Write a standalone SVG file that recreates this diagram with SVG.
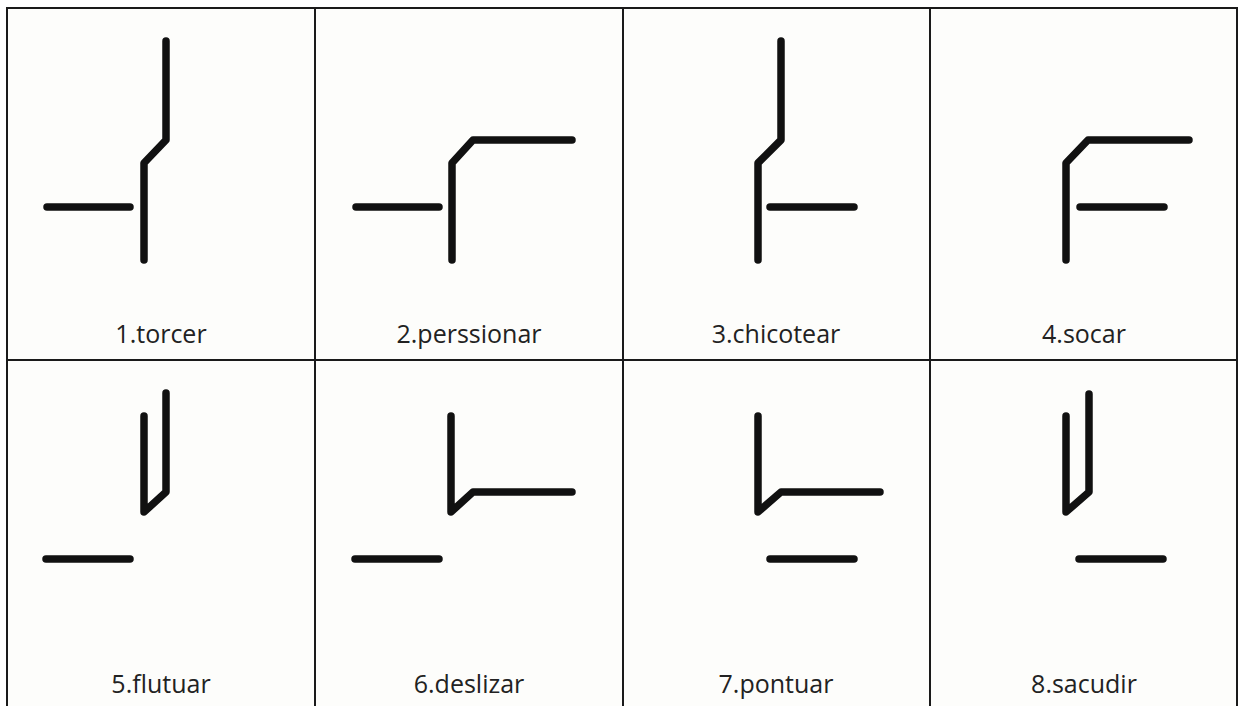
<svg xmlns="http://www.w3.org/2000/svg" width="1240" height="706" viewBox="0 0 1240 706">
<style>
.grid{fill:none;stroke:#1a1a1a;stroke-width:2}
.st{fill:none;stroke:#111;stroke-width:7.5;stroke-linecap:round;stroke-linejoin:round}
.lbl{font-family:"Open Sans","Liberation Sans",sans-serif;font-size:25px;fill:#222;text-anchor:middle}
</style>
<rect x="0" y="0" width="1240" height="706" fill="#ffffff"/>
<rect x="7" y="8" width="1230" height="710" fill="#fdfdfb"/>
<g id="grid">
<path class="grid" d="M7,720 V8 H1237 V720 M315,8 V720 M623,8 V720 M930,8 V720 M7,360 H1237"/>
</g>
<g id="n1">
<path class="st" d="M144,260 V163 L166,140 V41"/>
<path class="st" d="M47,207 H130"/>
<text class="lbl" x="161" y="343">1.torcer</text>
</g>
<g id="n2">
<path class="st" d="M452,260 V163 L473,140 H572"/>
<path class="st" d="M356,207 H439"/>
<text class="lbl" x="469" y="343">2.perssionar</text>
</g>
<g id="n3">
<path class="st" d="M758,260 V163 L781,140 V41"/>
<path class="st" d="M770,207 H854"/>
<text class="lbl" x="776" y="343">3.chicotear</text>
</g>
<g id="n4">
<path class="st" d="M1066,260 V163 L1088,140 H1189"/>
<path class="st" d="M1080,207 H1164"/>
<text class="lbl" x="1084" y="343">4.socar</text>
</g>
<g id="n5">
<path class="st" d="M144,416 V512 L166,492 V393"/>
<path class="st" d="M46,559 H130"/>
<text class="lbl" x="161" y="693">5.flutuar</text>
</g>
<g id="n6">
<path class="st" d="M451,416 V512 L473,492 H572"/>
<path class="st" d="M355,559 H439"/>
<text class="lbl" x="469" y="693">6.deslizar</text>
</g>
<g id="n7">
<path class="st" d="M758,416 V512 L781,492 H880"/>
<path class="st" d="M770,559 H854"/>
<text class="lbl" x="776" y="693">7.pontuar</text>
</g>
<g id="n8">
<path class="st" d="M1066,416 V512 L1089,492 V394"/>
<path class="st" d="M1079,559 H1163"/>
<text class="lbl" x="1084" y="693">8.sacudir</text>
</g>
<g id="connectors"></g>
</svg>
